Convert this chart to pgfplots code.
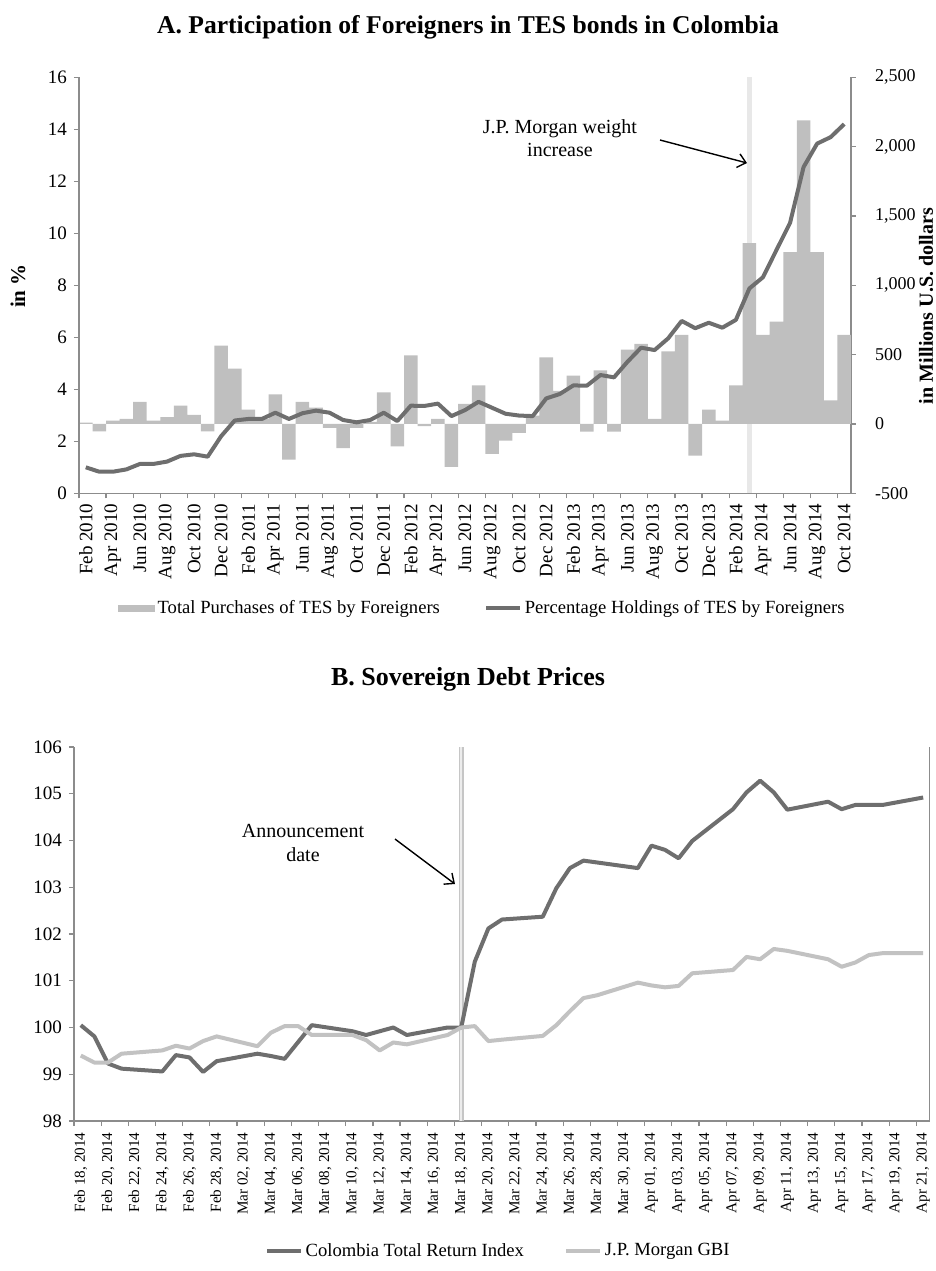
\documentclass[border=0pt]{standalone}
\usepackage{fontspec}
\setmainfont{Liberation Serif}
\usepackage{pgfplots}
\usepackage{pgfplotstable}
\pgfplotsset{compat=1.18}
\usetikzlibrary{arrows.meta}

\definecolor{bargray}{RGB}{191,191,191}
\definecolor{darkline}{RGB}{110,110,110}
\definecolor{lightline}{RGB}{194,194,194}
\definecolor{axisgray}{RGB}{140,140,140}
\definecolor{markA}{RGB}{232,232,232}

% monthly, Feb 2010 = 0 ... Oct 2014 = 56
\pgfplotstableread{
i bar pct
0 10 1.00
1 -53 0.83
2 24 0.83
3 36 0.92
4 159 1.13
5 24 1.13
6 50 1.22
7 132 1.44
8 65 1.50
9 -53 1.41
10 565 2.20
11 399 2.80
12 103 2.86
13 35 2.86
14 214 3.10
15 -257 2.86
16 159 3.08
17 118 3.18
18 -29 3.10
19 -175 2.82
20 -29 2.73
21 15 2.82
22 228 3.10
23 -161 2.78
24 495 3.37
25 -15 3.36
26 37 3.45
27 -310 2.97
28 145 3.20
29 279 3.52
30 -216 3.29
31 -120 3.06
32 -65 2.99
33 60 2.97
34 481 3.65
35 238 3.82
36 349 4.15
37 -55 4.14
38 386 4.55
39 -55 4.46
40 536 5.06
41 577 5.60
42 36 5.51
43 523 5.96
44 643 6.63
45 -228 6.35
46 103 6.56
47 24 6.37
48 279 6.67
49 1304 7.88
50 643 8.31
51 739 9.36
52 1240 10.40
53 2190 12.55
54 1240 13.45
55 171 13.70
56 642 14.20
}\tesdata

% days from Feb 18, 2014
\pgfplotstableread{
d col
0 100.05
1 99.81
2 99.23
3 99.12
6 99.06
7 99.41
8 99.36
9 99.05
10 99.28
13 99.44
14 99.39
15 99.33
16 99.69
17 100.05
20 99.92
21 99.84
22 99.92
23 100.00
24 99.84
27 100.00
28 100.00
29 101.41
30 102.12
31 102.31
34 102.37
35 102.98
36 103.41
37 103.57
38 103.53
41 103.41
42 103.89
43 103.80
44 103.62
45 103.99
48 104.67
49 105.03
50 105.28
51 105.03
52 104.66
55 104.83
56 104.67
57 104.76
58 104.76
59 104.76
62 104.92
}\coldata

\pgfplotstableread{
d gbi
0 99.40
1 99.25
2 99.25
3 99.44
6 99.51
7 99.61
8 99.55
9 99.71
10 99.81
13 99.60
14 99.89
15 100.03
16 100.03
17 99.84
20 99.84
21 99.73
22 99.51
23 99.68
24 99.64
27 99.84
28 100.00
29 100.03
30 99.71
31 99.74
34 99.82
35 100.05
36 100.35
37 100.63
38 100.69
41 100.96
42 100.90
43 100.86
44 100.89
45 101.16
48 101.23
49 101.51
50 101.46
51 101.68
52 101.64
55 101.46
56 101.30
57 101.39
58 101.55
59 101.59
62 101.59
}\gbidata

\pgfplotsset{
  base/.style={
    scale only axis,
    axis line style={axisgray, line width=0.6pt},
    tick style={axisgray, line width=0.6pt},
    major x tick style={draw=none},
    tick align=outside,
    major tick length=2.5pt, minor tick length=2.5pt,
    /pgf/number format/assume math mode=true,
    tick label style={font=\fontsize{9.5}{11}\selectfont, text=black},
    xticklabel style={rotate=90, anchor=east, inner sep=2.5pt},
    legend style={draw=none, fill=none, font=\fontsize{9.3}{11}\selectfont,
      legend columns=2, nodes={inner sep=1.2pt}},
  },
}

\begin{document}
\begin{tikzpicture}
\path[use as bounding box] (0,0) rectangle (468pt,-635.5pt);

% ---------- panel A ----------
\node[font=\bfseries\fontsize{12.8}{15}\selectfont] at (234pt,-13.5pt)
  {A. Participation of Foreigners in TES bonds in Colombia};

\begin{axis}[base,
  at={(39.5pt,-246.65pt)}, anchor=south west,
  width=386pt, height=208pt,
  xmin=-0.5, xmax=56.5, ymin=-500, ymax=2500,
  axis x line*=bottom, axis y line*=right,
  ytick={-500,0,...,2500},
  /pgf/number format/1000 sep={,},
  yticklabel style={anchor=west, xshift=6pt, font=\fontsize{9}{11}\selectfont},
  xtick={0,2,...,56},
  xticklabels={Feb 2010,Apr 2010,Jun 2010,Aug 2010,Oct 2010,Dec 2010,
    Feb 2011,Apr 2011,Jun 2011,Aug 2011,Oct 2011,Dec 2011,
    Feb 2012,Apr 2012,Jun 2012,Aug 2012,Oct 2012,Dec 2012,
    Feb 2013,Apr 2013,Jun 2013,Aug 2013,Oct 2013,Dec 2013,
    Feb 2014,Apr 2014,Jun 2014,Aug 2014,Oct 2014},
  minor xtick={-0.5,1.5,...,55.5},
]
\draw[markA, line width=2.5pt] (axis cs:49,-500) -- (axis cs:49,2500);
\addplot[ybar, bar width=1, fill=bargray, draw=none] table[x=i, y=bar] {\tesdata};
\end{axis}

\begin{axis}[base,
  at={(39.5pt,-246.65pt)}, anchor=south west,
  width=386pt, height=208pt,
  xmin=-0.5, xmax=56.5, ymin=0, ymax=16,
  hide x axis, axis y line*=left,
  ytick={0,2,...,16},
  legend style={at={(0.523,-0.276)}, anchor=center,
    /tikz/every even column/.append style={column sep=21pt}},
]
\addlegendimage{legend image code/.code={\fill[bargray] (0pt,-1.5pt) rectangle (18pt,1.5pt);}}
\addlegendentry{Total Purchases of TES by Foreigners}
\addplot[darkline, line width=2pt, line join=round] table[x=i, y=pct] {\tesdata};
\addlegendentry{Percentage Holdings of TES by Foreigners}
\end{axis}

\node[rotate=90, font=\bfseries\fontsize{10.5}{13}\selectfont] at (9pt,-143pt) {in \%};
\node[rotate=90, inner sep=0pt, font=\bfseries\fontsize{10}{12}\selectfont] at (463pt,-153pt) {in Millions U.S. dollars};

\node[align=center, font=\fontsize{10}{11.5}\selectfont] at (280pt,-69.25pt) {J.P. Morgan weight\\increase};
\draw[-{Straight Barb[length=4pt,width=7pt]}, line width=0.7pt] (330pt,-70pt) -- (373.5pt,-81.5pt);

% ---------- panel B ----------
\node[font=\bfseries\fontsize{13}{15}\selectfont] at (234pt,-339.5pt)
  {B. Sovereign Debt Prices};

\begin{axis}[base,
  at={(37pt,-560.5pt)}, anchor=south west,
  width=428pt, height=187pt,
  xmin=-0.5, xmax=62.5, ymin=98, ymax=106,
  axis x line*=bottom, axis y line*=left,
  ytick={98,99,...,106},
  xtick={0,2,...,62},
  xticklabel style={font=\fontsize{7.6}{9}\selectfont, inner sep=3pt},
  xticklabels={{Feb 18, 2014},{Feb 20, 2014},{Feb 22, 2014},{Feb 24, 2014},
    {Feb 26, 2014},{Feb 28, 2014},{Mar 02, 2014},{Mar 04, 2014},{Mar 06, 2014},
    {Mar 08, 2014},{Mar 10, 2014},{Mar 12, 2014},{Mar 14, 2014},{Mar 16, 2014},
    {Mar 18, 2014},{Mar 20, 2014},{Mar 22, 2014},{Mar 24, 2014},{Mar 26, 2014},
    {Mar 28, 2014},{Mar 30, 2014},{Apr 01, 2014},{Apr 03, 2014},{Apr 05, 2014},
    {Apr 07, 2014},{Apr 09, 2014},{Apr 11, 2014},{Apr 13, 2014},{Apr 15, 2014},
    {Apr 17, 2014},{Apr 19, 2014},{Apr 21, 2014}},
  minor xtick={-0.5,1.5,...,61.5},
  legend style={at={(0.496,-0.348)}, anchor=center,
    /tikz/every even column/.append style={column sep=19pt}},
]
\draw[axisgray, line width=0.6pt] (rel axis cs:1,0) -- (rel axis cs:1,1);
\draw[gray!45, line width=2.4pt] (axis cs:28,98) -- (axis cs:28,106);
\draw[gray!15, line width=1.2pt] (axis cs:28,98) -- (axis cs:28,106);
\addplot[darkline, line width=2pt, line join=round] table[x=d, y=col] {\coldata};
\addlegendentry{Colombia Total Return Index}
\addplot[lightline, line width=2pt, line join=round] table[x=d, y=gbi] {\gbidata};
\addlegendentry{J.P. Morgan GBI}
\end{axis}

\node[align=center, font=\fontsize{10}{12}\selectfont] at (151.5pt,-421.5pt) {Announcement\\date};
\draw[-{Straight Barb[length=4pt,width=7pt]}, line width=0.7pt] (197.5pt,-419.5pt) -- (227.5pt,-442pt);
\end{tikzpicture}
\end{document}
